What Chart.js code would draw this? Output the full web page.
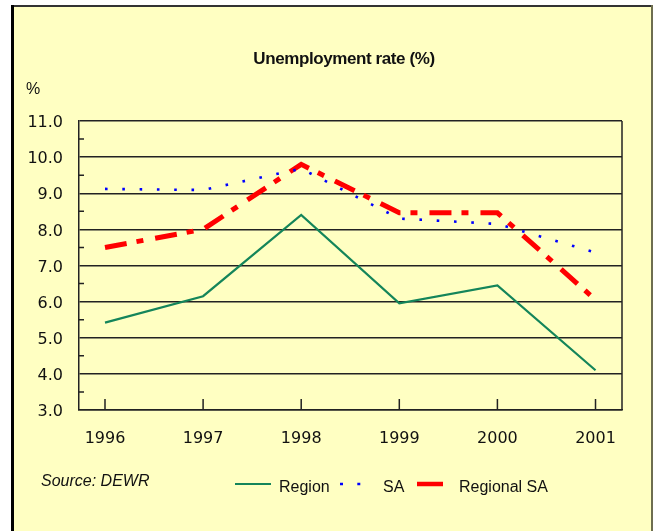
<!DOCTYPE html>
<html><head><meta charset="utf-8">
<script src="https://cdn.jsdelivr.net/npm/chart.js@4.4.1/dist/chart.umd.min.js"></script>
<style>
html,body{margin:0;padding:0;background:#fff;}
canvas{display:block;}
</style></head><body>
<canvas id="c" width="653" height="531"></canvas>
<script>
const years = [1996, 1997, 1998, 1999, 2000, 2001];
const region = [5.42, 6.15, 8.4, 5.95, 6.45, 4.1];
const sa = [9.12, 9.09, 9.68, 8.3, 8.15, 7.36];
const regionalSA = [7.5, 8.0, 9.8, 8.46, 8.46, 6.05];
const yTicks = [3, 4, 5, 6, 7, 8, 9, 10, 11];
const yMinorTicks = [3.5, 4.5, 5.5, 6.5, 7.5, 8.5, 9.5, 10.5];
const titleText = 'Unemployment rate (%)';
const unitText = '%';
const sourceText = 'Source: DEWR';

const AXIS = '#222';
const TICKFONT = '"DejaVu Sans", sans-serif';
const TEXTFONT = '"Liberation Sans", Arial, sans-serif';

const toXY = arr => years.map((y, i) => ({x: y, y: arr[i]}));

const framePlugin = {
  id: 'frame',
  beforeDraw(chart) {
    const ctx = chart.ctx;
    ctx.save();
    ctx.fillStyle = '#ffffff';
    ctx.fillRect(0, 0, 653, 531);
    ctx.fillStyle = '#ffffc2';
    ctx.fillRect(12, 6, 641, 525);
    ctx.fillStyle = '#333333';
    ctx.fillRect(11, 5, 642, 2);
    ctx.fillStyle = '#000000';
    ctx.fillRect(11, 5, 3, 526);
    ctx.fillStyle = '#6e6e50';
    ctx.fillRect(651, 5, 2, 526);
    ctx.restore();
  },
  afterDatasetsDraw(chart) {
    const ctx = chart.ctx;
    const a = chart.chartArea;
    const xs = chart.scales.x, ys = chart.scales.y;
    ctx.save();
    ctx.strokeStyle = AXIS;
    ctx.lineWidth = 1.5;
    ctx.beginPath();
    ctx.moveTo(a.right, a.top);
    ctx.lineTo(a.right, a.bottom);
    ctx.stroke();
    ctx.beginPath();
    years.forEach(v => {
      const px = xs.getPixelForValue(v);
      ctx.moveTo(px, a.bottom);
      ctx.lineTo(px, a.bottom - 11);
    });
    yMinorTicks.forEach(v => {
      const py = ys.getPixelForValue(v);
      ctx.moveTo(a.left, py);
      ctx.lineTo(a.left + 5, py);
    });
    ctx.stroke();
    ctx.restore();
  },
  afterDraw(chart) {
    const ctx = chart.ctx;
    ctx.save();
    ctx.fillStyle = '#111';
    ctx.font = 'bold 17px ' + TEXTFONT;
    ctx.textAlign = 'center';
    ctx.textBaseline = 'alphabetic';
    try { ctx.letterSpacing = '-0.4px'; } catch (e) {}
    ctx.fillText(titleText, 344, 64);
    try { ctx.letterSpacing = '0px'; } catch (e) {}
    ctx.font = '16px ' + TEXTFONT;
    ctx.textAlign = 'left';
    ctx.textBaseline = 'middle';
    ctx.fillText(unitText, 26, 90);
    ctx.font = 'italic 16px ' + TEXTFONT;
    ctx.fillText(sourceText, 41, 482);
    const ds = chart.data.datasets;
    const items = [
      {x0: 235, x1: 271, tx: 279, solid: true},
      {x0: 340, x1: 361, tx: 383, solid: false},
      {x0: 417, x1: 443, tx: 459, solid: true}
    ];
    ctx.font = '16px ' + TEXTFONT;
    items.forEach((it, i) => {
      const d = ds[i];
      ctx.save();
      ctx.strokeStyle = d.borderColor;
      ctx.lineWidth = i === 2 ? 4.5 : d.borderWidth;
      ctx.setLineDash(it.solid ? [] : [3, 14.3]);
      ctx.beginPath();
      ctx.moveTo(it.x0, 484);
      ctx.lineTo(it.x1, 484);
      ctx.stroke();
      ctx.restore();
      ctx.fillStyle = '#111';
      ctx.fillText(d.label, it.tx, 488);
    });
    ctx.restore();
  }
};

new Chart(document.getElementById('c'), {
  type: 'line',
  data: {
    datasets: [
      {label: 'Region', data: toXY(region), borderColor: '#14855a', borderWidth: 2.2,
       pointRadius: 0, tension: 0, fill: false},
      {label: 'SA', data: toXY(sa), borderColor: '#0000ff', borderWidth: 2.6,
       borderDash: [2.6, 14.7], pointRadius: 0, tension: 0, fill: false},
      {label: 'Regional SA', data: toXY(regionalSA), borderColor: '#ff0000', borderWidth: 5,
       borderDash: [22, 10, 7, 12], pointRadius: 0, tension: 0, fill: false}
    ]
  },
  options: {
    responsive: false,
    animation: false,
    devicePixelRatio: 1,
    layout: {padding: {left: 0, right: 31, top: 121, bottom: 0}},
    plugins: {legend: {display: false}, title: {display: false}, tooltip: {enabled: false}},
    scales: {
      x: {
        type: 'linear',
        min: 1995.735,
        max: 2001.27,
        afterBuildTicks: s => { s.ticks = years.map(v => ({value: v})); },
        afterFit: s => { s.height = 121; },
        ticks: {
          callback: v => String(v),
          font: {family: TICKFONT, size: 16},
          color: '#111',
          padding: 19,
          maxRotation: 0,
          autoSkip: false
        },
        grid: {display: false, drawTicks: false},
        border: {display: true, color: AXIS, width: 1.5}
      },
      y: {
        min: 3,
        max: 11,
        afterBuildTicks: s => { s.ticks = yTicks.map(v => ({value: v})); },
        afterFit: s => { s.width = 79; },
        ticks: {
          callback: v => Number(v).toFixed(1),
          font: {family: TICKFONT, size: 16},
          color: '#111',
          padding: 16,
          labelOffset: 2
        },
        grid: {color: AXIS, lineWidth: 1.5, drawTicks: false},
        border: {display: true, color: AXIS, width: 1.5}
      }
    }
  },
  plugins: [framePlugin]
});
</script>
</body></html>
